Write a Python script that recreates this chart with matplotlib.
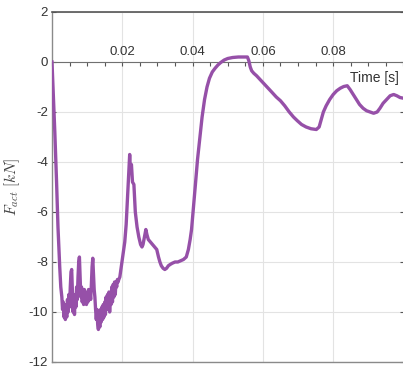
import matplotlib
matplotlib.use("Agg")
import matplotlib.pyplot as plt
from matplotlib.ticker import MultipleLocator, FixedLocator

plt.rcParams['axes.unicode_minus'] = False
plt.rcParams['font.family'] = ['Liberation Sans', 'DejaVu Sans']
plt.rcParams['mathtext.fontset'] = 'cm'

# time [s]
t = [0, 0.0008, 0.0013, 0.0017, 0.0022, 0.0025,
     # noisy part
     0.0028, 0.0030, 0.0032, 0.0034, 0.0036, 0.0038, 0.0040, 0.0042, 0.0044, 0.0046,
     0.0048, 0.0050, 0.0052, 0.0054, 0.0056, 0.0058, 0.0060, 0.0062, 0.0064, 0.0066,
     0.0068, 0.0070, 0.0072, 0.0074, 0.0076, 0.0078, 0.0080, 0.0082, 0.0084, 0.0086,
     0.0088, 0.0090, 0.0092, 0.0094, 0.0096, 0.0098, 0.0100, 0.0102, 0.0104, 0.0106,
     0.0108, 0.0110, 0.0112, 0.0114, 0.0116, 0.0118, 0.0120, 0.0122, 0.0124, 0.0126,
     0.0128, 0.0130, 0.0132, 0.0134, 0.0136, 0.0138, 0.0140, 0.0142, 0.0144, 0.0146,
     0.0148, 0.0150, 0.0152, 0.0154, 0.0156, 0.0158, 0.0160, 0.0162, 0.0164, 0.0166,
     0.0168, 0.0170, 0.0172, 0.0174, 0.0176, 0.0178, 0.0180, 0.0182, 0.0184, 0.0186,
     0.0188, 0.0190,
     # spike and recovery
     0.0193, 0.0196, 0.0199, 0.0203, 0.0207, 0.0211, 0.0215, 0.0218,
     0.0221, 0.0223, 0.0226, 0.0229, 0.0233, 0.0237, 0.0242, 0.0247, 0.0252, 0.0256,
     0.0259, 0.0263, 0.0267, 0.0270, 0.0274, 0.0280, 0.0286, 0.0292, 0.0298, 0.0303,
     0.0307, 0.0311, 0.0316, 0.0321, 0.0326, 0.0331, 0.0336, 0.0342, 0.0350, 0.0358,
     0.0366, 0.0374, 0.0382, 0.0388, 0.0393, 0.0397, 0.0402, 0.0408, 0.0414, 0.0420,
     0.0427, 0.0434, 0.0441, 0.0448, 0.0456, 0.0464, 0.0472, 0.0480, 0.0490, 0.0500,
     0.0514, 0.0530, 0.0545, 0.0556, 0.0560, 0.0564, 0.0568, 0.0574, 0.0582, 0.0592,
     0.0602, 0.0612, 0.0625, 0.0638, 0.0650, 0.0662, 0.0675, 0.0687, 0.0698, 0.0710,
     0.0723, 0.0737, 0.0752, 0.0760, 0.0766, 0.0772, 0.0780, 0.0790, 0.0800, 0.0810,
     0.0820, 0.0830, 0.0840, 0.0848, 0.0857, 0.0866, 0.0875, 0.0885, 0.0895, 0.0905,
     0.0915, 0.0925, 0.0933, 0.0942, 0.0952, 0.0962, 0.0972, 0.0981, 0.0990, 0.1000]

# actuator force [kN]
F_act = [0, -2.8, -4.8, -6.6, -8.2, -9.0,
         # noisy part
         -9.4, -9.9, -9.6, -10.2, -9.7, -10.3, -9.9, -10.2, -9.5, -10.0,
         -9.3, -9.8, -9.0, -8.4, -8.3, -9.2, -10.0, -9.5, -10.1, -9.3,
         -9.8, -9.0, -9.5, -8.6, -8.0, -7.8, -8.6, -9.4, -9.0, -9.6,
         -9.2, -9.7, -9.1, -9.6, -9.2, -9.7, -9.3, -9.6, -9.1, -9.5,
         -9.2, -9.5, -8.9, -8.2, -7.85, -8.5, -9.1, -9.4, -9.9, -10.3,
         -9.9, -10.5, -10.7, -10.2, -10.6, -9.9, -10.4, -9.8, -10.3, -9.7,
         -10.2, -9.6, -10.1, -9.4, -9.9, -9.3, -9.8, -9.2, -10.0, -9.4,
         -9.7, -9.0, -9.6, -8.9, -9.4, -8.8, -9.3, -8.8, -9.0, -8.7,
         -8.8, -8.7,
         # spike and recovery
         -8.6, -8.3, -8.0, -7.6, -7.2, -6.5, -5.4, -4.5,
         -3.7, -4.3, -4.1, -4.8, -4.9, -6.0, -6.6, -7.0, -7.3, -7.4,
         -7.3, -7.0, -6.7, -6.9, -7.1, -7.2, -7.3, -7.4, -7.5, -7.8,
         -8.0, -8.15, -8.25, -8.3, -8.25, -8.15, -8.1, -8.05, -8.0, -8.0,
         -7.95, -7.9, -7.8, -7.5, -7.1, -6.7, -5.9, -4.9, -3.9, -3.1,
         -2.2, -1.5, -1.0, -0.65, -0.4, -0.25, -0.12, -0.02, 0.08, 0.14,
         0.18, 0.2, 0.2, 0.2, 0.05, -0.2, -0.35, -0.45, -0.55, -0.7,
         -0.85, -1.0, -1.2, -1.4, -1.55, -1.75, -2.0, -2.2, -2.35, -2.5,
         -2.6, -2.67, -2.7, -2.6, -2.3, -2.0, -1.75, -1.5, -1.3, -1.15,
         -1.05, -0.98, -0.95, -1.1, -1.3, -1.5, -1.7, -1.85, -1.95, -2.0,
         -2.05, -2.0, -1.85, -1.65, -1.5, -1.35, -1.3, -1.35, -1.42, -1.45]

x_ticks = [0.02, 0.04, 0.06, 0.08]
x_tick_labels = ['0.02', '0.04', '0.06', '0.08']
y_ticks = [-12, -10, -8, -6, -4, -2, 0, 2]

fig = plt.figure(figsize=(4.03, 3.74), dpi=100)
ax = fig.add_axes([52 / 403, 12 / 374, 351.5 / 403, 350 / 374])

ax.plot(t, F_act, color='#9650a8', linewidth=2.4, solid_joinstyle='round', zorder=3)

ax.set_xlim(0, 0.1)
ax.set_ylim(-12, 2)

# x axis drawn at y = 0 (MATLAB "origin" style), labels above the line
ax.spines['top'].set_position(('data', 0))
ax.spines['top'].set_color('#707070')
ax.xaxis.set_ticks_position('top')
ax.xaxis.set_major_locator(FixedLocator(x_ticks))
ax.set_xticklabels(x_tick_labels)
ax.xaxis.set_minor_locator(MultipleLocator(0.005))
ax.tick_params(axis='x', which='both', direction='in', length=3, width=0.8,
               color='#555555', labelsize=9.5, labelcolor='#333333', pad=3)

ax.set_yticks(y_ticks)
ax.tick_params(axis='y', which='both', direction='in', left=True, right=True,
               length=3, width=0.8, color='#555555', labelsize=9.5,
               labelcolor='#333333', pad=3)

for s in ['left', 'bottom', 'right']:
    ax.spines[s].set_color('#8a8a8a')
    ax.spines[s].set_linewidth(1.0)

# top border of the box
ax.axhline(2, color='#555555', linewidth=1.2, clip_on=False, zorder=4)

ax.grid(True, which='major', color='#e3e3e3', linewidth=0.8, zorder=0)
ax.set_axisbelow(True)

ax.set_ylabel(r'$F_{act}\ [kN]$', fontsize=11, color='#444444', labelpad=5)
ax.text(0.0986, -0.65, 'Time [s]', ha='right', va='center', fontsize=10,
        color='#333333')

fig.savefig('out.png', dpi=100)
